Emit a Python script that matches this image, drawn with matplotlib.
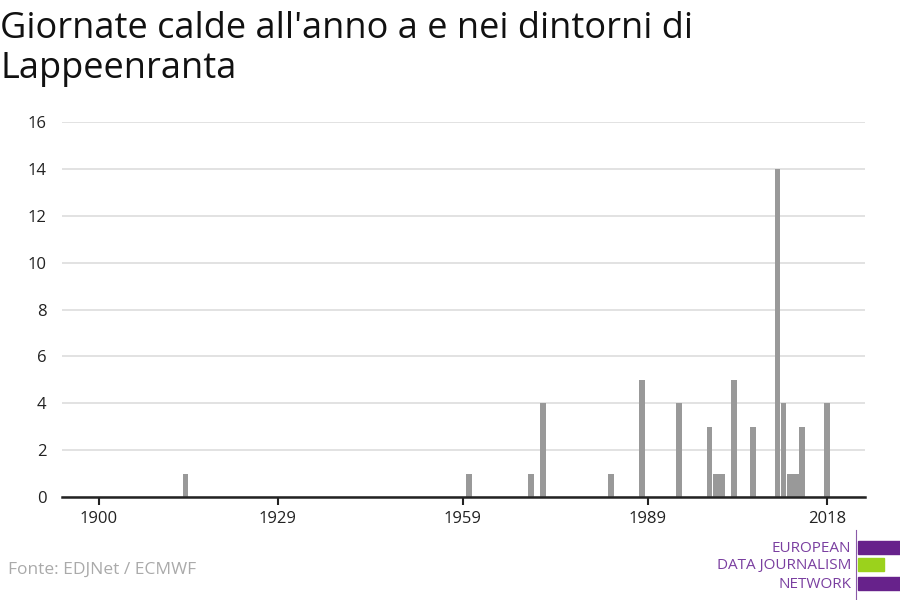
import matplotlib.pyplot as plt
from matplotlib.patches import Rectangle

years = [1914, 1960, 1970, 1972, 1983, 1988, 1994, 1999, 2000, 2001,
         2003, 2006, 2010, 2011, 2012, 2013, 2014, 2018]
hot_days = [1, 1, 1, 4, 1, 5, 4, 3, 1, 1, 5, 3, 14, 4, 1, 1, 3, 4]
x_ticks = [1900, 1929, 1959, 1989, 2018]
y_ticks = [0, 2, 4, 6, 8, 10, 12, 14, 16]

TITLE_LINES = ["Giornate calde all'anno a e nei dintorni di", "Lappeenranta"]
SOURCE = "Fonte: EDJNet / ECMWF"
LOGO_WORDS = ["EUROPEAN", "DATA JOURNALISM", "NETWORK"]
PURPLE = "#67228b"
GREEN = "#9bd21c"


def main():
    plt.rcParams['font.family'] = ['Open Sans', 'DejaVu Sans']
    fig = plt.figure(figsize=(9, 6), dpi=100)
    ax = fig.add_axes([62 / 900, 1 - 497 / 600, (865 - 62) / 900,
                       (497 - 122) / 600])

    ax.bar(years, hot_days, width=0.92, color="#999999", zorder=3)
    ax.set_xlim(1894, 2024.2)
    ax.set_ylim(0, 16)
    ax.set_xticks(x_ticks)
    ax.set_yticks(y_ticks)
    ax.tick_params(axis='x', length=6, width=1.5, color="#222222",
                   labelsize=12, pad=4, labelcolor="#222222")
    ax.tick_params(axis='y', length=0, labelsize=12, pad=11,
                   labelcolor="#222222")
    ax.grid(axis='y', color="#dddddd", linewidth=1.2, zorder=0)
    for side in ["top", "right", "left"]:
        ax.spines[side].set_visible(False)
    ax.spines["bottom"].set_color("#222222")
    ax.spines["bottom"].set_linewidth(1.8)
    ax.spines["bottom"].set_zorder(4)

    for y0, line in zip([38, 78], TITLE_LINES):
        fig.text(0.0, 1 - y0 / 600, line, fontsize=26, va='baseline',
                 ha='left', color="#111111")
    fig.text(8 / 900, 1 - 570 / 600, SOURCE, fontsize=12.5, va='center',
             ha='left', color="#aaaaaa")

    # logo
    fig.add_artist(plt.Line2D([856 / 900, 856 / 900], [0, 1 - 530 / 600],
                              color="#8a5aa8", linewidth=0.8,
                              transform=fig.transFigure))
    for y0, x1, c in [(541, 900, PURPLE), (558, 884, GREEN),
                      (577, 900, PURPLE)]:
        fig.add_artist(Rectangle((858 / 900, 1 - (y0 + 12.5) / 600),
                                 (x1 - 858) / 900, 12.5 / 600, color=c,
                                 transform=fig.transFigure))
    for y0, txt in zip([548, 566, 584], LOGO_WORDS):
        fig.text(851 / 900, 1 - y0 / 600, txt, fontsize=11, ha='right',
                 va='center', color="#7a3fa0")

    fig.savefig("out.png", dpi=100)


if __name__ == "__main__":
    main()
